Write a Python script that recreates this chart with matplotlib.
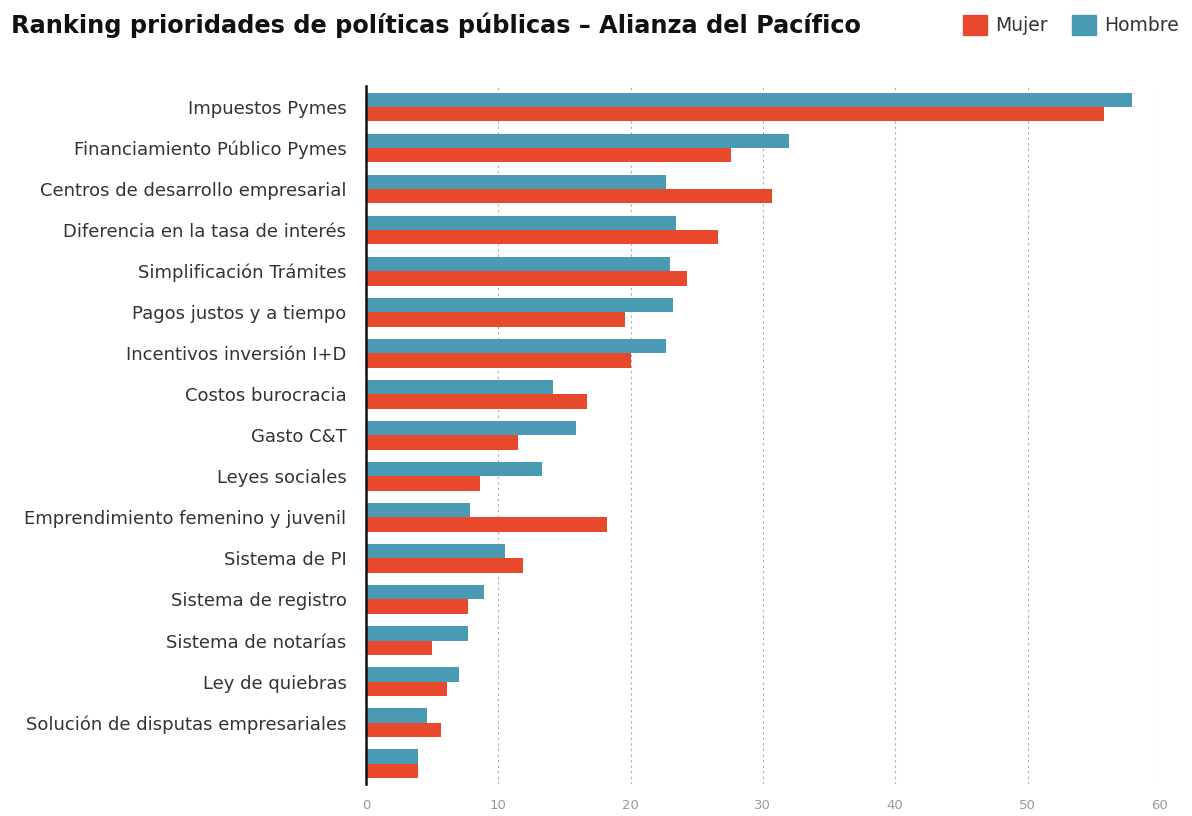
import matplotlib
matplotlib.use("Agg")
import matplotlib.pyplot as plt
from matplotlib.patches import Patch
import numpy as np

# Data
categories = [
    "Impuestos Pymes",
    "Financiamiento Público Pymes",
    "Centros de desarrollo empresarial",
    "Diferencia en la tasa de interés",
    "Simplificación Trámites",
    "Pagos justos y a tiempo",
    "Incentivos inversión I+D",
    "Costos burocracia",
    "Gasto C&T",
    "Leyes sociales",
    "Emprendimiento femenino y juvenil",
    "Sistema de PI",
    "Sistema de registro",
    "Sistema de notarías",
    "Ley de quiebras",
    "Solución de disputas empresariales",
    "",
]
hombre = [57.9, 32.0, 22.7, 23.4, 23.0, 23.2, 22.7, 14.1, 15.9, 13.3,
          7.9, 10.5, 8.9, 7.7, 7.0, 4.6, 3.9]
mujer = [55.8, 27.6, 30.7, 26.6, 24.3, 19.6, 20.0, 16.7, 11.5, 8.6,
         18.2, 11.9, 7.7, 5.0, 6.1, 5.7, 3.9]
xticks = [0, 10, 20, 30, 40, 50, 60]

red = "#E8482B"
teal = "#4A9AB4"

fig = plt.figure(figsize=(11.92, 8.16), dpi=100)
ax = fig.add_axes([0.307, 0.039, 0.666, 0.855])

y = np.arange(len(categories))
h = 0.35
ax.barh(y - h / 2, hombre, height=h, color=teal, zorder=3)
ax.barh(y + h / 2, mujer, height=h, color=red, zorder=3)

ax.set_ylim(len(categories) - 0.5, -0.5)
ax.set_xlim(0, 60)
ax.set_yticks(y)
ax.set_yticklabels(categories, fontsize=13, color="#333333")
ax.set_xticks(xticks)
ax.set_xticklabels([str(t) for t in xticks], fontsize=9.5, color="#999999")
ax.tick_params(axis="y", length=0, pad=14)
ax.tick_params(axis="x", length=0, pad=11)

# dotted vertical gridlines
ax.grid(axis="x", linestyle=(0, (2, 3)), color="#aaaaaa", linewidth=0.8, zorder=0)
ax.grid(axis="y", visible=False)

for side in ["top", "right", "bottom"]:
    ax.spines[side].set_visible(False)
ax.spines["left"].set_color("#111111")
ax.spines["left"].set_linewidth(1.8)
ax.spines["left"].set_zorder(4)

# title, right edge where the original ends, kept fully inside the figure
fig.text(0.722, 0.969, "Ranking prioridades de políticas públicas – Alianza del Pacífico",
         ha="right", va="center", fontsize=17.3, fontweight="bold", color="#111111")

handles = [Patch(color=red, label="Mujer"), Patch(color=teal, label="Hombre")]
fig.legend(handles=handles, loc="center right", bbox_to_anchor=(1.0, 0.969),
           ncol=2, frameon=False, fontsize=13.5, handlelength=1.25, handleheight=1.25,
           handletextpad=0.45, columnspacing=1.3, labelcolor="#333333",
           borderaxespad=0.3)

fig.savefig("out.png", dpi=100)
